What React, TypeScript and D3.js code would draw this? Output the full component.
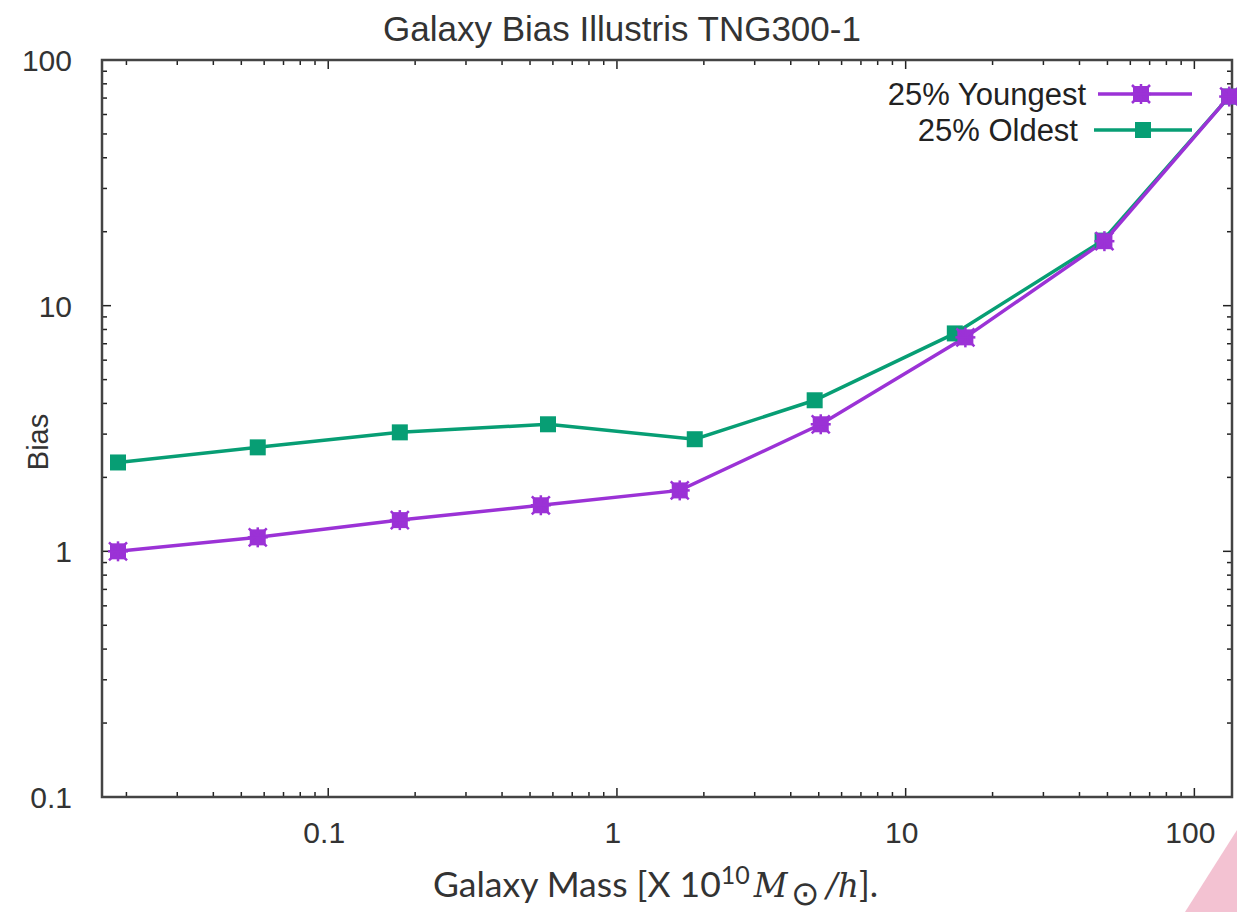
import React from "react";
import * as d3 from "d3";

const massYoung = [0.0187, 0.057, 0.177, 0.545, 1.65, 5.08, 16.1, 48.8, 132];
const biasYoung = [1.0, 1.14, 1.34, 1.54, 1.77, 3.29, 7.43, 18.3, 71];
const massOld = [0.0187, 0.057, 0.177, 0.577, 1.86, 4.84, 14.8, 48.1, 132];
const biasOld = [2.3, 2.65, 3.05, 3.29, 2.86, 4.12, 7.71, 18.4, 71];
const xTickLabels = [0.1, 1, 10, 100];
const yTickLabels = [0.1, 1, 10, 100];

const W = 1237, H = 912;
const L = 102, R = 1232, T = 60, B = 797;
const PURPLE = "#9b32d6";
const GREEN = "#079e74";

export default function App() {
  const x = d3.scaleLog().domain([0.01646, 135]).range([L, R]);
  const y = d3.scaleLog().domain([0.1, 100]).range([B, T]);
  const font = "Liberation Sans, Arial, sans-serif";

  const young = massYoung.map((m, i) => [m, biasYoung[i]] as [number, number]);
  const old = massOld.map((m, i) => [m, biasOld[i]] as [number, number]);
  const line = d3.line<[number, number]>().x(d => x(d[0])).y(d => y(d[1]));

  const xMinor: number[] = [];
  for (let e = -2; e <= 2; e++) for (let k = 1; k <= 9; k++) {
    const v = k * Math.pow(10, e);
    if (v >= x.domain()[0] && v <= x.domain()[1]) xMinor.push(v);
  }
  const yMinor: number[] = [];
  for (let e = -1; e <= 1; e++) for (let k = 1; k <= 9; k++) yMinor.push(k * Math.pow(10, e));
  yMinor.push(100);

  const isMajor = (v: number) => Math.abs(Math.log10(v) - Math.round(Math.log10(v))) < 1e-6;

  const sq = (cx: number, cy: number, color: string, star: boolean, key: string) => (
    <g key={key}>
      <rect x={cx - 8} y={cy - 8} width={16} height={16} fill={color} />
      {star && (
        <g stroke={color} strokeWidth={2.5}>
          <line x1={cx - 9} y1={cy - 9} x2={cx + 9} y2={cy + 9} />
          <line x1={cx - 9} y1={cy + 9} x2={cx + 9} y2={cy - 9} />
          <line x1={cx} y1={cy - 10} x2={cx} y2={cy + 10} />
          <line x1={cx - 10} y1={cy} x2={cx + 10} y2={cy} />
        </g>
      )}
    </g>
  );

  return (
    <svg width={W} height={H} style={{ position: "absolute", left: 0, top: 0 }}>
      <rect width={W} height={H} fill="#fff" />
      <polygon points="1237,830 1237,912 1185,912" fill="#f3c2d2" />
      <text x={622} y={41} textAnchor="middle" fontFamily={font} fontSize={35} fill="#333">
        Galaxy Bias Illustris TNG300-1
      </text>

      {/* ticks */}
      <g stroke="#222" strokeWidth={1.5}>
        {xMinor.map((v, i) => {
          const len = isMajor(v) ? 9 : 5;
          return (
            <g key={"xt" + i}>
              <line x1={x(v)} x2={x(v)} y1={B} y2={B - len} />
              <line x1={x(v)} x2={x(v)} y1={T} y2={T + len} />
            </g>
          );
        })}
        {yMinor.map((v, i) => {
          const len = isMajor(v) ? 9 : 5;
          return (
            <g key={"yt" + i}>
              <line x1={L} x2={L + len} y1={y(v)} y2={y(v)} />
              <line x1={R} x2={R - len} y1={y(v)} y2={y(v)} />
            </g>
          );
        })}
      </g>

      <rect x={L} y={T} width={R - L} height={B - T} fill="none" stroke="#444" strokeWidth={2.5} />

      {xTickLabels.map(v => (
        <text key={"xl" + v} x={x(v) - 4} y={843} textAnchor="middle" fontFamily={font} fontSize={30} fill="#333">
          {v}
        </text>
      ))}
      {yTickLabels.map(v => (
        <text key={"yl" + v} x={72} y={y(v) + 11} textAnchor="end" fontFamily={font} fontSize={30} fill="#333">
          {v}
        </text>
      ))}

      <text transform={`translate(48,${442}) rotate(-90)`} textAnchor="middle" fontFamily={font} fontSize={29} fill="#333">
        Bias
      </text>
      <text x={433} y={897} fontFamily="Lato, sans-serif" fontSize={35.5} fill="#333">
        <tspan>Galaxy Mass [X 10</tspan>
        <tspan dy={-13} fontSize={25}>10</tspan>
        <tspan dy={13} dx={4} fontFamily="DejaVu Serif, serif" fontStyle="italic" fontSize={33}>M</tspan>
        <tspan dy={8} dx={3} fontSize={34}>⊙</tspan>
        <tspan dy={-8} dx={8} fontFamily="DejaVu Serif, serif" fontStyle="italic" fontSize={33}>/h</tspan>
        <tspan>].</tspan>
      </text>

      <path d={line(old) || ""} fill="none" stroke={GREEN} strokeWidth={3.5} />
      <path d={line(young) || ""} fill="none" stroke={PURPLE} strokeWidth={3.5} />
      {old.map((d, i) => sq(x(d[0]), y(d[1]), GREEN, false, "o" + i))}
      {young.map((d, i) => sq(x(d[0]), y(d[1]), PURPLE, true, "y" + i))}

      {/* legend */}
      <text x={1086} y={105} textAnchor="end" fontFamily={font} fontSize={31} fill="#222">25% Youngest</text>
      <line x1={1098} x2={1192} y1={94} y2={94} stroke={PURPLE} strokeWidth={3.5} />
      {sq(1141, 94, PURPLE, true, "ly")}
      <text x={1078} y={141} textAnchor="end" fontFamily={font} fontSize={31} fill="#222">25% Oldest</text>
      <line x1={1094} x2={1192} y1={130} y2={130} stroke={GREEN} strokeWidth={3.5} />
      {sq(1143, 130, GREEN, false, "lo")}
    </svg>
  );
}
